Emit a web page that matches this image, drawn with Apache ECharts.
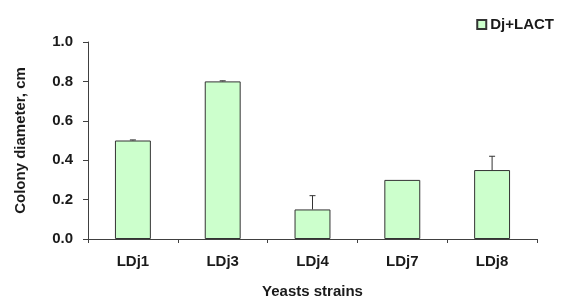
<!DOCTYPE html>
<html>
<head>
<meta charset="utf-8">
<script src="https://cdn.jsdelivr.net/npm/echarts@6/dist/echarts.min.js"></script>
<style>
html,body{margin:0;padding:0;background:#fff;}
#main{width:562px;height:299px;}
</style>
</head>
<body>
<div id="main"></div>
<script>
// strains and colony diameter (cm)
var strains = ['LDj1', 'LDj3', 'LDj4', 'LDj7', 'LDj8'];
var diameter = [0.50, 0.80, 0.15, 0.30, 0.35];
var errors = [0.003, 0.003, 0.07, 0, 0.07];

var chart = echarts.init(document.getElementById('main'));
var font = 'Liberation Sans, Arial, sans-serif';

var option = {
    animation: false,
    grid: {left: 88, right: 25, top: 42, bottom: 60, outerBoundsMode: 'none', containLabel: false},
    legend: {
        right: 3,
        top: 12,
        itemWidth: 9,
        itemHeight: 9,
        itemGap: 4,
        data: [{name: 'Dj+LACT', icon: 'rect'}],
        textStyle: {fontFamily: font, fontWeight: 'bold', fontSize: 15, color: '#1a1a1a', padding: [0, 0, 0, -1]}
    },
    xAxis: {
        type: 'category',
        data: strains,
        name: 'Yeasts strains',
        nameLocation: 'middle',
        nameGap: 45,
        nameTextStyle: {fontFamily: font, fontWeight: 'bold', fontSize: 15, color: '#1a1a1a'},
        axisLine: {lineStyle: {color: '#404040', width: 1}},
        axisTick: {show: true, length: 4, lineStyle: {color: '#404040'}},
        axisLabel: {fontFamily: font, fontWeight: 'bold', fontSize: 15, color: '#1a1a1a', margin: 15}
    },
    yAxis: {
        type: 'value',
        min: 0,
        max: 1.0,
        interval: 0.2,
        name: 'Colony diameter, cm',
        nameLocation: 'middle',
        nameGap: 60,
        nameTextStyle: {fontFamily: font, fontWeight: 'bold', fontSize: 15, color: '#1a1a1a'},
        splitLine: {show: false},
        axisLine: {show: true, lineStyle: {color: '#404040', width: 1}},
        axisTick: {show: true, length: 5, lineStyle: {color: '#404040'}},
        axisLabel: {
            fontFamily: font, fontWeight: 'bold', fontSize: 15, color: '#1a1a1a', margin: 15,
            formatter: function (v) { return v.toFixed(1); }
        }
    },
    series: [
        {
            name: 'Dj+LACT',
            type: 'bar',
            data: diameter,
            barWidth: '40%',
            itemStyle: {color: '#ccffcc', borderColor: '#333333', borderWidth: 1}
        },
        {
            name: 'err',
            type: 'custom',
            data: strains.map(function (s, i) { return [i, diameter[i], diameter[i] + errors[i]]; }),
            z: 10,
            renderItem: function (params, api) {
                if (api.value(2) - api.value(1) <= 0) return null;
                var base = api.coord([api.value(0), api.value(1)]);
                var top = api.coord([api.value(0), api.value(2)]);
                var half = 3;
                return {
                    type: 'group',
                    children: [
                        {type: 'line', shape: {x1: base[0], y1: base[1], x2: top[0], y2: top[1]},
                         style: {stroke: '#333333', lineWidth: 1}},
                        {type: 'line', shape: {x1: top[0] - half, y1: top[1], x2: top[0] + half, y2: top[1]},
                         style: {stroke: '#333333', lineWidth: 1}}
                    ]
                };
            }
        }
    ]
};
chart.setOption(option);
</script>
</body>
</html>
